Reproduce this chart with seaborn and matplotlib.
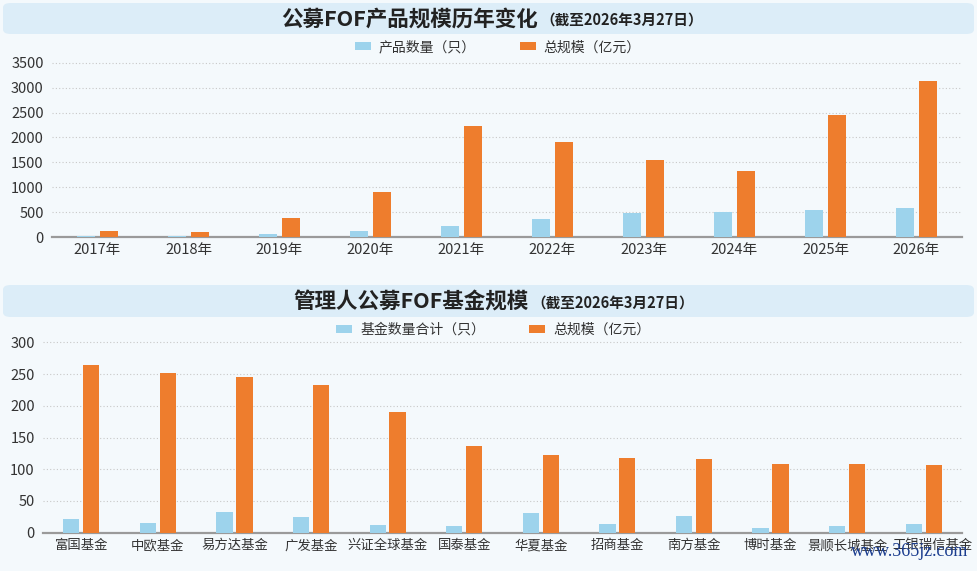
import pandas as pd
import matplotlib.pyplot as plt
import matplotlib.transforms as mtransforms
import seaborn as sns
from matplotlib.patches import FancyBboxPatch

# ── Data ───────────────────────────────────────────────────────────
years = ['2017年', '2018年', '2019年', '2020年', '2021年',
         '2022年', '2023年', '2024年', '2025年', '2026年']
year_count = [27, 20, 67, 120, 228, 368, 482, 495, 535, 582]
year_scale = [130, 100, 375, 904, 2222, 1914, 1546, 1325, 2443, 3132]

managers = ['富国基金', '中欧基金', '易方达基金', '广发基金', '兴证全球基金', '国泰基金',
            '华夏基金', '招商基金', '南方基金', '博时基金', '景顺长城基金', '工银瑞信基金']
mgr_count = [22, 16, 33, 24, 12, 11, 31, 13, 27, 7, 10, 13]
mgr_scale = [265, 251, 245, 233, 190, 136, 123, 117, 116, 109, 108, 107]

lab_count_top = '产品数量（只）'
lab_count_bot = '基金数量合计（只）'
lab_scale = '总规模（亿元）'

BLUE = '#9dd3ec'
ORANGE = '#ee7d2d'
BG = '#f4f9fc'
BANNER = '#dcedf8'
TXT = '#333333'

sns.set_style('white')
plt.rcParams['font.family'] = ['Noto Sans CJK SC', 'DejaVu Sans']

W, H = 977, 571
fig = plt.figure(figsize=(W / 100, H / 100), dpi=100, facecolor=BG)


def px_axes(left, top, right, bottom):
    return fig.add_axes([left / W, 1 - bottom / H, (right - left) / W, (bottom - top) / H])


def banner(top, bottom):
    p = FancyBboxPatch((3 / W, 1 - bottom / H), (W - 6) / W, (bottom - top) / H,
                       boxstyle='round,pad=0,rounding_size=0.008',
                       transform=fig.transFigure, facecolor=BANNER, edgecolor='none', zorder=0)
    fig.patches.append(p)


def draw(ax, cats, counts, scales, count_label, ylim, yticks, width, gap, xfs, leg_y):
    df = pd.DataFrame({
        'cat': cats * 2,
        'val': counts + scales,
        'series': [count_label] * len(cats) + [lab_scale] * len(cats),
    })
    sns.barplot(data=df, x='cat', y='val', hue='series', order=cats,
                hue_order=[count_label, lab_scale], palette=[BLUE, ORANGE],
                width=width, gap=gap, ax=ax, zorder=3, saturation=1,
                linewidth=0, edgecolor='none')
    ax.set_facecolor(BG)
    ax.set_xlim(-0.5, len(cats) - 0.5)
    ax.set_ylim(*ylim)
    ax.set_yticks(yticks)
    ax.set_xlabel('')
    ax.set_ylabel('')
    for y in yticks[1:]:
        ax.axhline(y, color='#c8c8c8', lw=0.8, ls=(0, (1, 2)), zorder=1, clip_on=False)
    for s in ['top', 'right', 'left']:
        ax.spines[s].set_visible(False)
    ax.spines['bottom'].set_color('#9a9a9a')
    ax.spines['bottom'].set_linewidth(1.6)
    ax.tick_params(axis='both', length=0, colors=TXT)
    ax.tick_params(axis='y', labelsize=10.5, pad=6)
    ax.tick_params(axis='x', labelsize=xfs, pad=4)
    sns.move_legend(ax, 'center', bbox_to_anchor=(0.49, leg_y), ncol=2, frameon=False,
                    title=None, fontsize=10, handlelength=1.15, handleheight=0.55,
                    handletextpad=0.55, columnspacing=3.2, borderaxespad=0)
    for t in ax.get_legend().get_texts():
        t.set_color(TXT)


# ── Panel 1 ────────────────────────────────────────────────────────
banner(3, 34)
fig.text(538 / W, 1 - 19 / H, '公募FOF产品规模历年变化', ha='right', va='center',
         fontsize=15.5, fontweight='bold', color='#222222')
fig.text(540 / W, 1 - 20 / H, '（截至2026年3月27日）', ha='left', va='center',
         fontsize=10.5, fontweight='bold', color='#222222')
ax1 = px_axes(52, 62.7, 962, 237)
draw(ax1, years, year_count, year_scale, lab_count_top, (0, 3500),
     [0, 500, 1000, 1500, 2000, 2500, 3000, 3500], 0.5, 0.2, 10.5, 1 + 15.5 / 174.3)

# ── Panel 2 ────────────────────────────────────────────────────────
banner(285, 317)
fig.text(529 / W, 1 - 302 / H, '管理人公募FOF基金规模', ha='right', va='center',
         fontsize=15.5, fontweight='bold', color='#222222')
fig.text(531 / W, 1 - 303 / H, '（截至2026年3月27日）', ha='left', va='center',
         fontsize=10.5, fontweight='bold', color='#222222')
ax2 = px_axes(43, 342.3, 962, 532.7)
draw(ax2, managers, mgr_count, mgr_scale, lab_count_bot, (0, 300),
     [0, 50, 100, 150, 200, 250, 300], 0.52, 0.18, 9.6, 1 + 12.5 / 190.4)

# last manager label sits a little to the right, as in the source
last = ax2.get_xticklabels()[-1]
last.set_transform(last.get_transform() + mtransforms.ScaledTranslation(9 / 100, 0, fig.dpi_scale_trans))

fig.text(968 / W, 1 - 551 / H, 'www.365jz.com', ha='right', va='center',
         fontsize=13, family='Liberation Serif', color='#1b3d8f')

fig.savefig('out.png', dpi=100, facecolor=BG)
